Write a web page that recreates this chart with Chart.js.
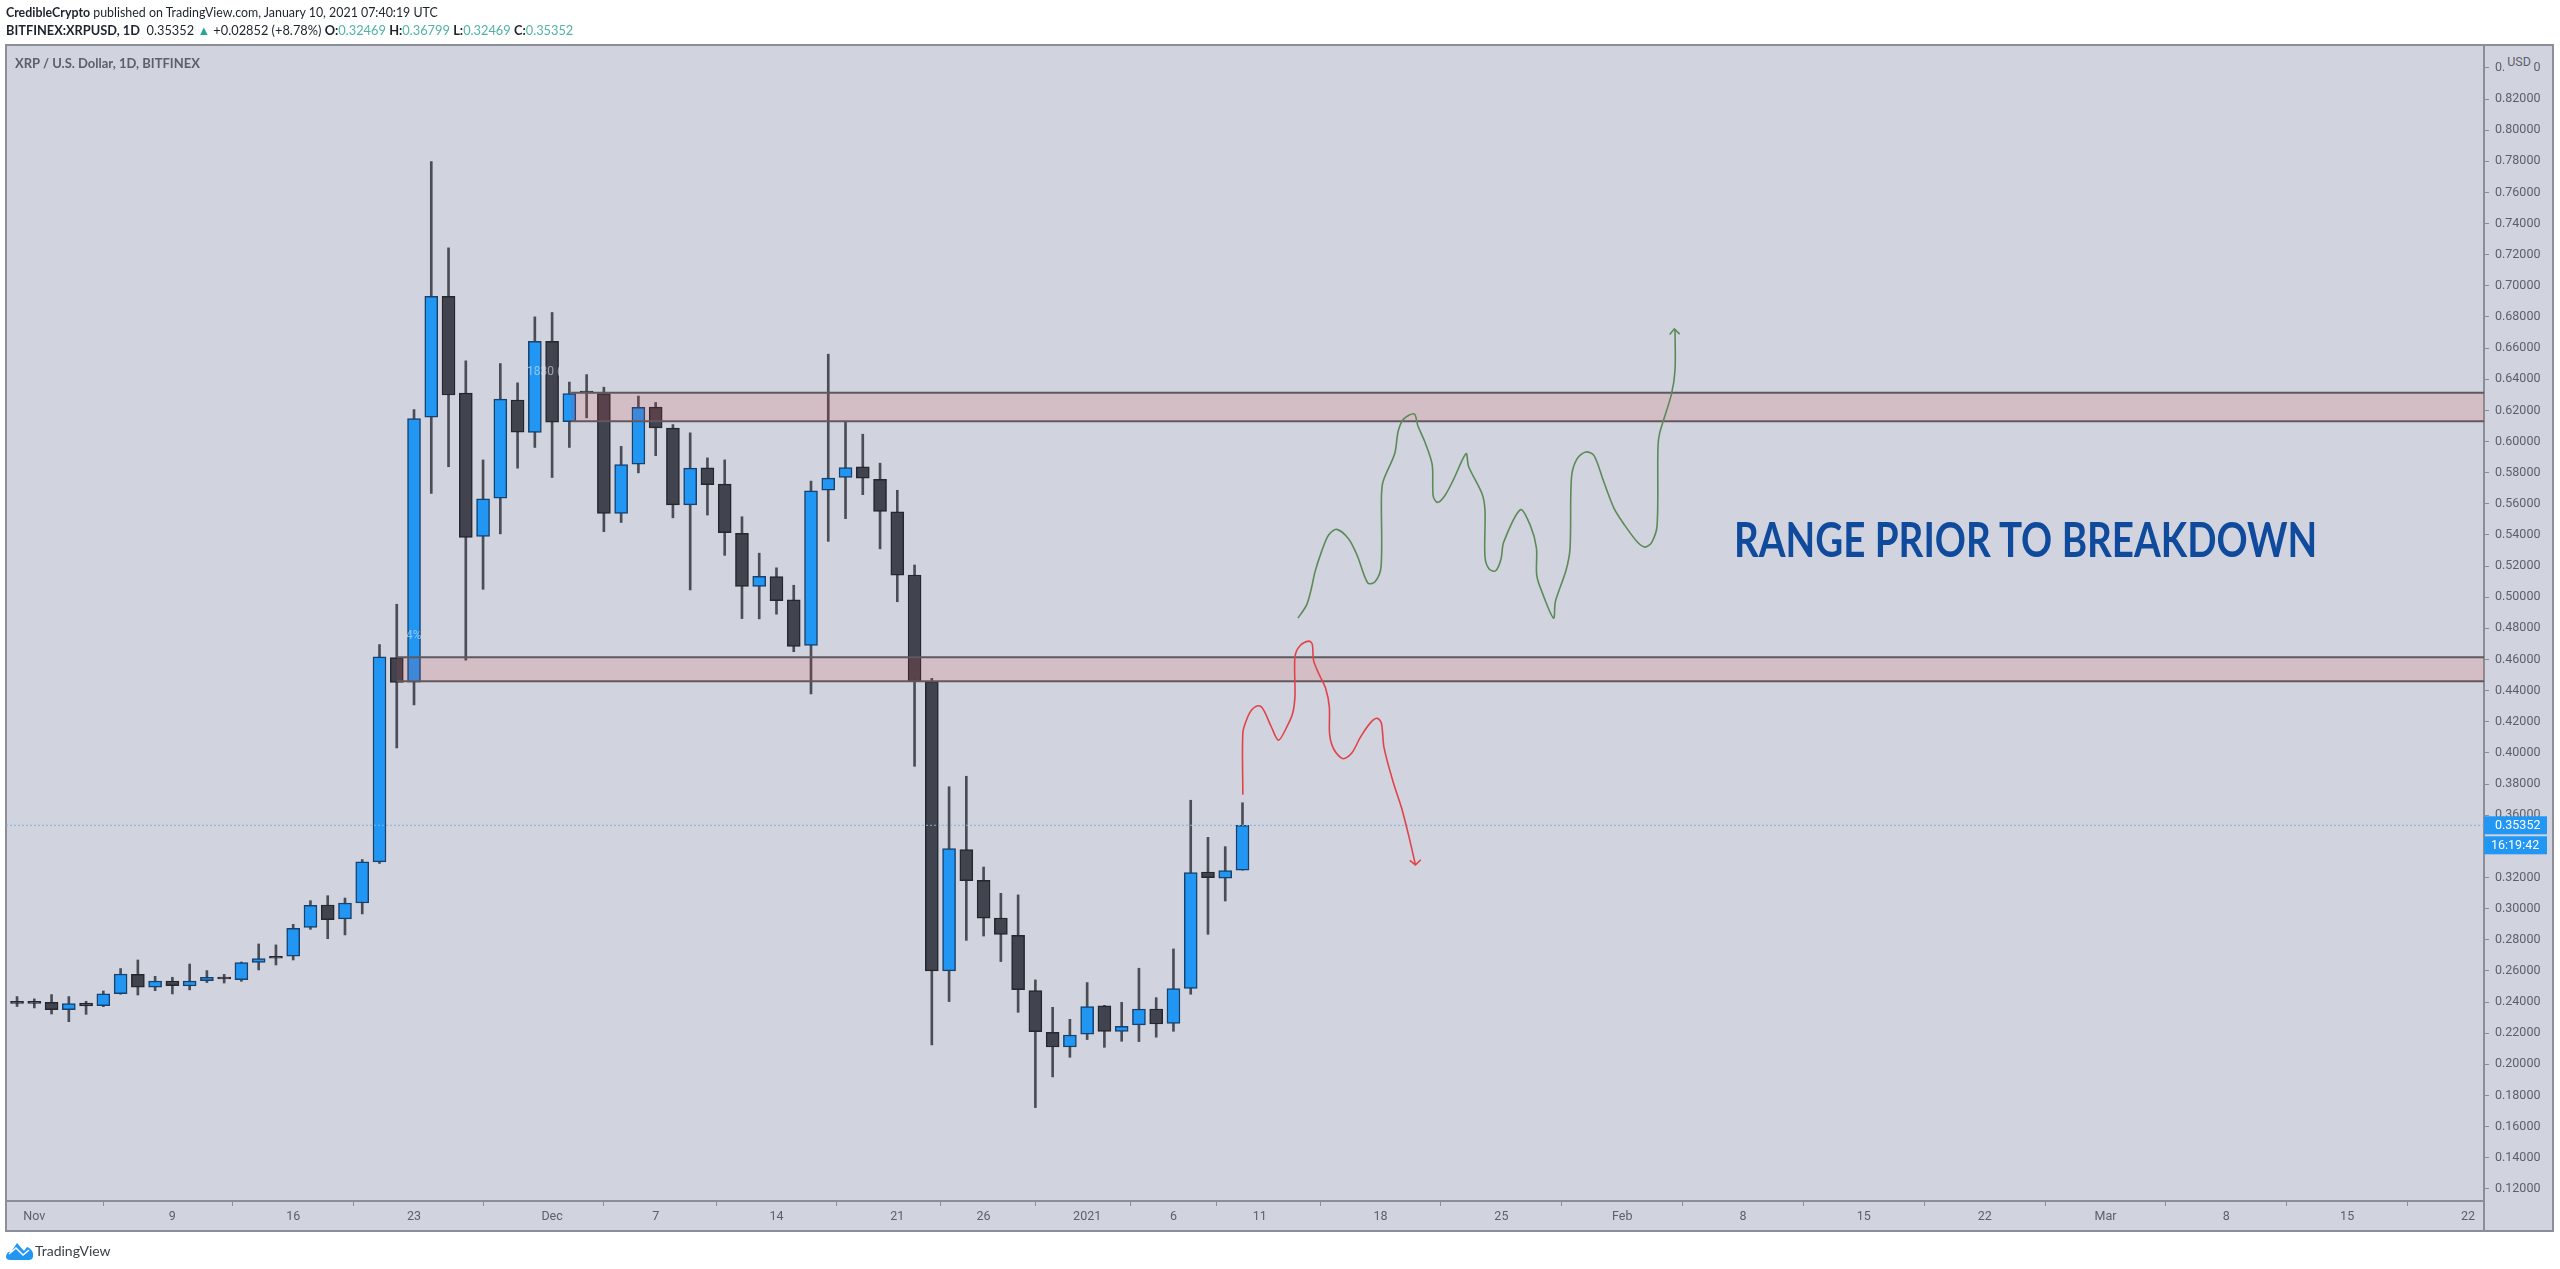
<!DOCTYPE html>
<html>
<head>
<meta charset="utf-8">
<title>XRP / U.S. Dollar</title>
<script src="https://cdn.jsdelivr.net/npm/chart.js@4/dist/chart.umd.min.js"></script>
<style>
    html, body { margin: 0; padding: 0; background: #fff; width: 2560px; height: 1269px; overflow: hidden; }
    #priceChart { position: absolute; left: 0; top: 0; }
    .txt { position: absolute; white-space: nowrap; font-family: Lato, sans-serif; color: #1e222d; }
    .up { color: #4fb3a4; }
    #annotation { left: 1734px; top: 511px; font-size: 47px; font-weight: 700; color: #0f4a9c; transform: scaleX(0.82); transform-origin: left top; }
    #paneTitle { left: 15px; top: 55px; font-size: 13px; font-weight: 700; color: #5d606b; }
    #usdBox { position: absolute; left: 2504px; top: 50px; width: 30px; height: 24px; background: #d1d4de; color: #5d606b; font: 12.5px Roboto, sans-serif; text-align: center; line-height: 24px; }
</style>
</head>
<body>
<canvas id="priceChart" width="2560" height="1269"></canvas>
<div class="txt" style="left:6px;top:5px;font-size:12.4px"><b>CredibleCrypto</b> published on TradingView.com, January 10, 2021 07:40:19 UTC</div>
<div class="txt" style="left:6px;top:22px;font-size:12.8px"><b>BITFINEX:XRPUSD, 1D</b>&nbsp; 0.35352 <span style="color:#26a69a">&#9650;</span> +0.02852 (+8.78%) <b>O:</b><span class="up">0.32469</span> <b>H:</b><span class="up">0.36799</span> <b>L:</b><span class="up">0.32469</span> <b>C:</b><span class="up">0.35352</span></div>
<div class="txt" id="paneTitle">XRP / U.S. Dollar, 1D, BITFINEX</div>
<div id="usdBox">USD</div>
<div class="txt" id="annotation">RANGE PRIOR TO BREAKDOWN</div>
<svg style="position:absolute;left:6px;top:1242px" width="28" height="18" viewBox="0 0 28 18">
    <path fill="#2196f3" d="M0 15 C0 11 3 9 5 10 L11 1 L18 9 L21 5 C25 6 28 11 27 14 C27 17 25 18 22 18 L4 18 C2 18 0 17 0 15 Z"/>
    <path fill="none" stroke="#fff" stroke-width="1.6" d="M3 12 L10 6 L17 13 L23 8"/>
</svg>
<div class="txt" style="left:35px;top:1242px;font-size:14px;color:#3c4049">TradingView</div>

<script>
    // days are counted from Nov 1 2020, candles start one day before
    const firstCandleDay = -1;
    const opens = [
        .2392, .2392, .2398, .2351, .2394, .2377, .2454, .2578, .2495, .2535, .2503, .2537,
        .2559, .2544, .2655, .2694, .2694, .2880, .3023, .2934, .3036, .3300, .4613, .4455,
        .6157, .6932, .6311, .5391, .5636, .6267, .6058, .6643, .6127, .6313, .6308, .5538,
        .5854, .6221, .6086, .5593, .5831, .5726, .5411, .5070, .5132, .4983, .4691, .5687,
        .5769, .5838, .5758, .5549, .5143, .4458, .2600, .3379, .3182, .2940, .2829, .2473,
        .2206, .2111, .2193, .2375, .2212, .2253, .2355, .2263, .2488, .3235, .3195, .32469
    ];
    const closes = [
        .2391, .2391, .2351, .2390, .2375, .2452, .2580, .2495, .2535, .2505, .2535, .2559,
        .2548, .2653, .2679, .2681, .2874, .3021, .2929, .3036, .3300, .4618, .4453, .6148,
        .6932, .6299, .5384, .5632, .6272, .6061, .6643, .6125, .6308, .6312, .5538, .5852,
        .6219, .6088, .5593, .5829, .5723, .5414, .5070, .5134, .4978, .4684, .5684, .5765,
        .5833, .5765, .5551, .5141, .4462, .2600, .3385, .3180, .2938, .2835, .2480, .2210,
        .2111, .2188, .2370, .2212, .2244, .2355, .2259, .2486, .3231, .3199, .3244, .35352
    ];
    const highs = [
        .2435, .2420, .2448, .2435, .2405, .2471, .2615, .2670, .2565, .2559, .2644, .2602,
        .2578, .2657, .2773, .2767, .2899, .3051, .3083, .3068, .3315, .4696, .4955, .6205,
        .7799, .7244, .6519, .5882, .6501, .6377, .6801, .6829, .6382, .6430, .6349, .5969,
        .6292, .6251, .6109, .6056, .5895, .5882, .5517, .5283, .5189, .5077, .5746, .6561,
        .6125, .6047, .5861, .5687, .5207, .4479, .3783, .3850, .3267, .3098, .3088, .2542,
        .2366, .2289, .2525, .2379, .2398, .2617, .2428, .2741, .3696, .3458, .3398, .36799
    ];
    const lows = [
        .2371, .2362, .2323, .2274, .2321, .2370, .2450, .2445, .2473, .2452, .2478, .2525,
        .2522, .2533, .2606, .2638, .2670, .2867, .2807, .2831, .2966, .3290, .4032, .4308,
        .5666, .5838, .4595, .5051, .5407, .5829, .5962, .5769, .5962, .6152, .5421, .5480,
        .5799, .5909, .5510, .5047, .5528, .5269, .4863, .4861, .4891, .4650, .4379, .5359,
        .5505, .5659, .5311, .4971, .3914, .2124, .2403, .2796, .2824, .2660, .2334, .1722,
        .1919, .2045, .2159, .2109, .2148, .2146, .2174, .2212, .2450, .2835, .3049, .32469
    ];
    const lastPrice = 0.35352;
    const countdownLabel = "16:19:42";

    // x axis ticks
    const timeTickDays = [0, 8, 15, 22, 30, 36, 43, 50, 55, 61, 66, 71, 78, 85, 92, 99, 106, 113, 120, 127, 134, 141];
    const timeTickLabels = ["Nov", "9", "16", "23", "Dec", "7", "14", "21", "26", "2021", "6", "11", "18", "25", "Feb", "8", "15", "22", "Mar", "8", "15", "22"];
    const xMin = -1.64;
    const xMax = 141.93;

    // y axis ticks
    const priceTicks = [.12, .14, .16, .18, .20, .22, .24, .26, .28, .30, .32, .34, .36, .38, .40, .42, .44, .46, .48,
        .50, .52, .54, .56, .58, .60, .62, .64, .66, .68, .70, .72, .74, .76, .78, .80, .82, .84];
    const yMin = 0.1122;
    const yMax = 0.8547;

    // the two shaded ranges
    const upperZoneDays = [31.1, xMax];
    const upperZoneTop = [.6314, .6314];
    const upperZoneBottom = [.6130, .6130];
    const lowerZoneDays = [21, xMax];
    const lowerZoneTop = [.4615, .4615];
    const lowerZoneBottom = [.4460, .4460];

    // hand drawn red path
    const redDays = [70.02, 70.02, 70.23, 70.54, 70.95, 71.22, 71.68, 72.09, 72.61, 72.92, 73.04, 73.04, 73.33, 73.85, 74.04, 74.12,
        74.47, 74.82, 75.03, 75.05, 75.30, 75.82, 76.33, 76.85, 77.47, 77.82, 78.05, 78.20, 78.71, 79.23, 79.64, 80.02];
    const redPrices = [.3732, .4129, .4212, .4277, .4303, .4277, .4165, .4082, .4177, .4260, .4367, .4616, .4688, .4718, .4699, .4593,
        .4497, .4414, .4296, .4117, .4022, .3963, .3999, .4105, .4201, .4222, .4189, .4034, .3820, .3642, .3464, .3281];
    const redArrowDays = [79.69, 80.02, 80.33];
    const redArrowPrices = [.3310, .3281, .3314];

    // hand drawn green path
    const greenDays = [73.21, 73.71, 73.99, 74.20, 74.58, 74.99, 75.46, 76.13, 76.64, 77.26, 77.68, 78.03, 78.05, 78.15, 78.82, 79.02,
        79.33, 79.95, 80.16, 80.58, 80.99, 81.05, 81.30, 81.71, 82.23, 82.95, 83.10, 83.89, 84.05, 84.05, 84.30, 84.67,
        84.98, 85.13, 86.10, 86.68, 87.03, 87.05, 87.40, 88.02, 88.13, 88.75, 88.98, 89.06, 89.37, 89.89, 90.36, 90.92,
        91.54, 92.16, 92.89, 93.34, 93.71, 94.02, 94.07, 94.17, 94.85, 95.06, 95.06];
    const greenPrices = [.4866, .4949, .5056, .5163, .5293, .5400, .5436, .5377, .5270, .5091, .5099, .5198, .5650, .5745, .5923, .6066,
        .6144, .6177, .6101, .5994, .5852, .5650, .5609, .5650, .5757, .5923, .5840, .5662, .5555, .5258, .5179, .5170,
        .5246, .5353, .5562, .5460, .5317, .5139, .5020, .4866, .4973, .5175, .5317, .5769, .5887, .5933, .5911, .5745,
        .5567, .5460, .5353, .5322, .5353, .5460, .5959, .6054, .6303, .6458, .6719];
    const greenArrowDays = [94.75, 95.02, 95.33];
    const greenArrowPrices = [.6688, .6724, .6690];

    const paneColor = "#d1d4de";
    const frameColor = "#8b8e97";
    const textColor = "#5d606b";
    const upColor = "#2196f3";
    const downColor = "#41444e";

    function toPoints(xs, ys) {
        return xs.map((x, i) => ({ x: x, y: ys[i] }));
    }

    function pathDataset(xs, ys, color, tension) {
        return {
            type: "line",
            data: toPoints(xs, ys),
            borderColor: color,
            borderWidth: 1.6,
            pointRadius: 0,
            tension: tension,
            order: -1
        };
    }

    function zoneDatasets(xs, top, bottom) {
        return [
            {
                type: "line",
                data: toPoints(xs, top),
                borderColor: "#5c5a5f",
                borderWidth: 2,
                pointRadius: 0,
                fill: "+1",
                backgroundColor: "rgba(237,55,58,0.14)",
                order: 1
            },
            {
                type: "line",
                data: toPoints(xs, bottom),
                borderColor: "#5c5a5f",
                borderWidth: 2,
                pointRadius: 0,
                fill: false,
                order: 2
            }
        ];
    }

    const candleDays = opens.map((_, i) => firstCandleDay + i);
    const isUp = opens.map((o, i) => closes[i] > o);

    // pane background, frame and the small leftovers that sit under the drawings
    const paneFrame = {
        id: "paneFrame",
        beforeDraw(chart) {
            const ctx = chart.ctx;
            const area = chart.chartArea;
            const right = chart.scales.y.right;
            const bottom = chart.scales.x.bottom;
            ctx.save();
            ctx.fillStyle = paneColor;
            ctx.fillRect(area.left, area.top, right - area.left, bottom - area.top);
            ctx.strokeStyle = frameColor;
            ctx.lineWidth = 2;
            ctx.strokeRect(area.left, area.top, right - area.left, bottom - area.top);
            ctx.beginPath();
            ctx.moveTo(area.right, area.bottom);
            ctx.lineTo(area.right, bottom);
            ctx.stroke();
            ctx.restore();
        },
        afterDraw(chart) {
            const ctx = chart.ctx;
            const area = chart.chartArea;
            const y = chart.scales.y.getPixelForValue(lastPrice);
            ctx.save();
            ctx.fillStyle = upColor;
            ctx.fillRect(area.right, y - 9, 63, 18);
            ctx.fillRect(area.right, y + 11, 63, 18);
            ctx.fillStyle = "#ffffff";
            ctx.font = "12.5px Roboto, sans-serif";
            ctx.textBaseline = "middle";
            ctx.textAlign = "left";
            ctx.fillText(lastPrice.toFixed(5), area.right + 11, y + 0.5);
            ctx.fillText(countdownLabel, area.right + 7, y + 20.5);

            // faint price labels left under the candles in the original
            ctx.fillStyle = "rgba(214,228,244,0.6)";
            ctx.font = "12px Roboto, sans-serif";
            ctx.fillText("1830 (", 527, 372);
            ctx.fillText("4%", 406, 636);
            ctx.restore();
        }
    };

    new Chart("priceChart", {
        data: {
            datasets: [
                {
                    type: "bar",
                    data: candleDays.map((d, i) => ({ x: d, y: [opens[i], closes[i]] })),
                    backgroundColor: isUp.map(up => up ? upColor : downColor),
                    borderColor: isUp.map(up => up ? "#17426f" : "#24272e"),
                    borderWidth: 1.5,
                    borderSkipped: false,
                    barThickness: 13,
                    minBarLength: 2,
                    grouped: false,
                    order: 3
                },
                {
                    type: "bar",
                    data: candleDays.map((d, i) => ({ x: d, y: [lows[i], highs[i]] })),
                    backgroundColor: "#4a4d55",
                    borderWidth: 0,
                    barThickness: 2,
                    grouped: false,
                    order: 4
                },
                ...zoneDatasets(upperZoneDays, upperZoneTop, upperZoneBottom),
                ...zoneDatasets(lowerZoneDays, lowerZoneTop, lowerZoneBottom),
                {
                    type: "line",
                    data: toPoints([xMin, xMax], [lastPrice, lastPrice]),
                    borderColor: "#7fb0d8",
                    borderWidth: 1,
                    borderDash: [2, 2],
                    pointRadius: 0,
                    order: 0
                },
                pathDataset(redDays, redPrices, "#e2434b", 0.3),
                pathDataset(redArrowDays, redArrowPrices, "#e2434b", 0),
                pathDataset(greenDays, greenPrices, "#5c8a58", 0.3),
                pathDataset(greenArrowDays, greenArrowPrices, "#5c8a58", 0)
            ]
        },
        options: {
            responsive: false,
            animation: false,
            devicePixelRatio: 1,
            events: [],
            layout: { padding: { left: 6, top: 45, right: 7, bottom: 38 } },
            plugins: {
                legend: { display: false },
                tooltip: { enabled: false }
            },
            scales: {
                x: {
                    type: "linear",
                    min: xMin,
                    max: xMax,
                    bounds: "data",
                    offset: false,
                    afterFit(scale) { scale.height = 30; },
                    afterBuildTicks(scale) { scale.ticks = timeTickDays.map(v => ({ value: v })); },
                    grid: { drawOnChartArea: false, tickLength: 5, tickColor: frameColor, tickWidth: 1 },
                    border: { color: frameColor, width: 2 },
                    ticks: {
                        autoSkip: false,
                        maxRotation: 0,
                        padding: 3,
                        color: textColor,
                        font: { family: "Roboto", size: 12.5 },
                        callback: value => timeTickLabels[timeTickDays.indexOf(value)]
                    }
                },
                y: {
                    position: "right",
                    min: yMin,
                    max: yMax,
                    bounds: "data",
                    afterFit(scale) { scale.width = 69; },
                    afterBuildTicks(scale) { scale.ticks = priceTicks.map(v => ({ value: v })); },
                    grid: { drawOnChartArea: false, tickLength: 5, tickColor: frameColor, tickWidth: 1 },
                    border: { color: frameColor, width: 2 },
                    ticks: {
                        autoSkip: false,
                        padding: 6,
                        color: textColor,
                        font: { family: "Roboto", size: 12.5 },
                        callback: value => value.toFixed(5)
                    }
                }
            }
        },
        plugins: [paneFrame]
    });
</script>
</body>
</html>
